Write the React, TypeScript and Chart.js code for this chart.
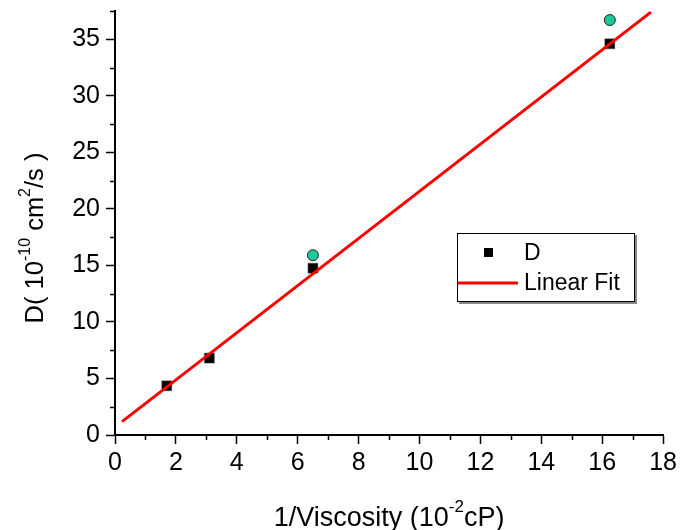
import React, { useEffect, useRef } from 'react';
import { Chart, registerables } from 'chart.js';

Chart.register(...registerables);

// ---- data ----
const measuredX = [1.7, 3.1, 6.5, 16.25];
const measuredD = [4.35, 6.8, 14.75, 34.6];
const extraX = [6.5, 16.25];
const extraD = [15.9, 36.7];
const fitX = [0.23, 17.6];
const fitD = [1.18, 37.4];
const xMinorTicks = [1, 3, 5, 7, 9, 11, 13, 15, 17];
const yMinorTicks = [2.5, 7.5, 12.5, 17.5, 22.5, 27.5, 32.5, 37.5];
const legendLabels = ['D', 'Linear Fit'];
// title pieces: [text, isSuperscript]
const xTitleParts: [string, boolean][] = [['1/Viscosity (10', false], ['-2', true], ['cP)', false]];
const yTitleParts: [string, boolean][] = [['D( 10', false], ['-10', true], [' cm', false], ['2', true], ['/s )', false]];

const FONT = '"Liberation Sans", Arial, Helvetica, sans-serif';
const TICK = 25;

function partsWidth(ctx: CanvasRenderingContext2D, parts: [string, boolean][], main: number, sup: number) {
  let w = 0;
  for (const [t, s] of parts) {
    ctx.font = `${s ? sup : main}px ${FONT}`;
    w += ctx.measureText(t).width;
  }
  return w;
}

function drawParts(ctx: CanvasRenderingContext2D, parts: [string, boolean][], x: number, y: number, main: number, sup: number, raise: number) {
  let cx = x;
  ctx.textBaseline = 'alphabetic';
  ctx.textAlign = 'left';
  for (const [t, s] of parts) {
    ctx.font = `${s ? sup : main}px ${FONT}`;
    ctx.fillText(t, cx, s ? y - raise : y);
    cx += ctx.measureText(t).width;
  }
}

const extrasPlugin = {
  id: 'extras',
  afterDraw(chart: any) {
    const ctx: CanvasRenderingContext2D = chart.ctx;
    const xs = chart.scales.x;
    const ys = chart.scales.y;
    const area = chart.chartArea;
    ctx.save();
    // minor ticks
    ctx.strokeStyle = '#000';
    ctx.lineWidth = 1.5;
    ctx.beginPath();
    for (const v of xMinorTicks) {
      const px = Math.round(xs.getPixelForValue(v)) + 0.5;
      ctx.moveTo(px, area.bottom);
      ctx.lineTo(px, area.bottom + 5);
    }
    for (const v of yMinorTicks) {
      const py = Math.round(ys.getPixelForValue(v)) + 0.5;
      ctx.moveTo(area.left, py);
      ctx.lineTo(area.left - 5, py);
    }
    ctx.stroke();

    // axis titles
    ctx.fillStyle = '#000';
    const xw = partsWidth(ctx, xTitleParts, 27, 17);
    drawParts(ctx, xTitleParts, (area.left + area.right) / 2 - xw / 2, 526, 27, 17, 14);
    const yw = partsWidth(ctx, yTitleParts, 25.5, 16);
    ctx.save();
    ctx.translate(43, 238);
    ctx.rotate(-Math.PI / 2);
    drawParts(ctx, yTitleParts, -yw / 2, 0, 25.5, 16, 13);
    ctx.restore();

    // legend box
    const lx = 457, ly = 233, lw = 178, lh = 69;
    ctx.fillStyle = '#888';
    ctx.fillRect(lx + 2, ly + 2, lw, lh);
    ctx.fillStyle = '#fff';
    ctx.fillRect(lx, ly, lw, lh);
    ctx.strokeStyle = '#000';
    ctx.lineWidth = 1;
    ctx.strokeRect(lx + 0.5, ly + 0.5, lw - 1, lh - 1);
    // item 1: square marker
    ctx.fillStyle = '#000';
    ctx.fillRect(484, 248, 9, 9);
    ctx.font = `23px ${FONT}`;
    ctx.textBaseline = 'middle';
    ctx.textAlign = 'left';
    ctx.fillText(legendLabels[0], 524, 254);
    // item 2: red line
    ctx.strokeStyle = '#ff0000';
    ctx.lineWidth = 3;
    ctx.beginPath();
    ctx.moveTo(lx + 1, 283);
    ctx.lineTo(518, 283);
    ctx.stroke();
    ctx.fillStyle = '#000';
    ctx.fillText(legendLabels[1], 524, 284);
    ctx.restore();
  },
};

export default function App() {
  const ref = useRef<HTMLCanvasElement | null>(null);
  useEffect(() => {
    if (!ref.current) return;
    const chart = new Chart(ref.current, {
      type: 'scatter',
      data: {
        datasets: [
          {
            label: legendLabels[1],
            data: fitX.map((x, i) => ({ x, y: fitD[i] })),
            showLine: true,
            borderColor: '#ff0000',
            borderWidth: 3,
            pointRadius: 0,
            fill: false,
          },
          {
            label: legendLabels[0],
            data: measuredX.map((x, i) => ({ x, y: measuredD[i] })),
            pointStyle: 'rect',
            pointRadius: 7,
            backgroundColor: '#000',
            borderColor: '#444',
            borderWidth: 0.5,
          },
          {
            label: 'extra',
            data: extraX.map((x, i) => ({ x, y: extraD[i] })),
            pointStyle: 'circle',
            pointRadius: 5.5,
            backgroundColor: '#1cc89c',
            borderColor: '#222',
            borderWidth: 1,
          },
        ],
      },
      options: {
        responsive: false,
        animation: false,
        devicePixelRatio: 1,
        layout: { padding: { left: 0, right: 16, top: 11, bottom: 0 } },
        plugins: { legend: { display: false }, tooltip: { enabled: false } },
        scales: {
          x: {
            type: 'linear',
            min: 0,
            max: 18,
            ticks: {
              stepSize: 2,
              color: '#000',
              font: { family: FONT, size: TICK },
              padding: 4,
              maxRotation: 0,
              autoSkip: false,
            },
            grid: {
              drawOnChartArea: false,
              drawTicks: true,
              tickLength: 9,
              tickColor: '#000',
              tickWidth: 1.5,
              color: '#000',
            },
            border: { display: true, color: '#000', width: 2 },
            afterFit: (s: any) => {
              s.height = 95;
            },
          },
          y: {
            type: 'linear',
            min: 0,
            max: 37.5,
            ticks: {
              stepSize: 5,
              includeBounds: false,
              color: '#000',
              font: { family: FONT, size: TICK },
              padding: 6,
            },
            grid: {
              drawOnChartArea: false,
              drawTicks: true,
              tickLength: 9,
              tickColor: '#000',
              tickWidth: 1.5,
              color: '#000',
            },
            border: { display: true, color: '#000', width: 2 },
            afterBuildTicks: (s: any) => {
              s.ticks = s.ticks.filter((t: any) => Math.abs(t.value % 5) < 1e-9);
            },
            afterFit: (s: any) => {
              s.width = 115;
              s.paddingTop = 0;
              s.paddingBottom = 0;
            },
          },
        },
      },
      plugins: [extrasPlugin],
    });
    return () => chart.destroy();
  }, []);
  return (
    <div style={{ position: 'fixed', left: 0, top: 0, width: 681, height: 530, background: '#fff' }}>
      <canvas ref={ref} width={681} height={530} style={{ display: 'block' }} />
    </div>
  );
}
